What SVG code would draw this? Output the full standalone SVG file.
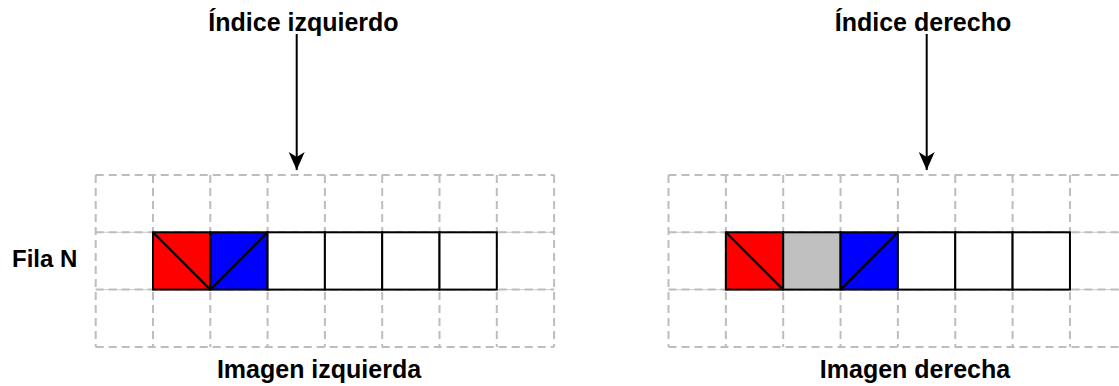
<svg xmlns="http://www.w3.org/2000/svg" width="1119" height="386" viewBox="0 0 1119 386">
<style>
.lbl{font-family:"Liberation Sans",Arial,sans-serif;font-weight:bold;font-size:25px;fill:#000}
.grid{fill:none;stroke:#BDBDBD;stroke-width:2;stroke-dasharray:8 5}
.gsolid{stroke:#CCCCCC;stroke-width:1}
.cell{stroke:#000;stroke-width:2}
.diag{stroke:#000;stroke-width:2.2;fill:none}
.conn{stroke:#000;stroke-width:2;fill:none}
</style>
<defs>
<marker id="arr" markerUnits="userSpaceOnUse" markerWidth="20" markerHeight="20" viewBox="0 0 20 20" refX="18" refY="10" orient="auto">
<path d="M18,10 L0,2 L5,10 L0,18 Z" fill="#000"/>
</marker>
</defs>
<rect width="1119" height="386" fill="#fff"/>

<g id="grid-left">
<line class="gsolid" x1="95.7" y1="232.3" x2="554.1" y2="232.3"/>
<line class="gsolid" x1="95.7" y1="289.6" x2="554.1" y2="289.6"/>
<path class="grid" d="M95.7,175H554.1M95.7,232.3H554.1M95.7,289.6H554.1M95.7,346.9H554.1M95.7,175V346.9M153,175V346.9M210.3,175V346.9M267.6,175V346.9M324.9,175V346.9M382.2,175V346.9M439.5,175V346.9M496.8,175V346.9M554.1,175V346.9"/>
</g>

<g id="grid-right">
<line class="gsolid" x1="668.5" y1="232.3" x2="1127" y2="232.3"/>
<line class="gsolid" x1="668.5" y1="289.6" x2="1127" y2="289.6"/>
<path class="grid" d="M668.5,175H1127M668.5,232.3H1127M668.5,289.6H1127M668.5,346.9H1127M668.5,175V346.9M725.85,175V346.9M783.2,175V346.9M840.55,175V346.9M897.9,175V346.9M955.25,175V346.9M1012.6,175V346.9M1069.95,175V346.9"/>
</g>

<g id="row-left">
<rect class="cell" x="153" y="232.3" width="57.3" height="57.3" fill="#FF0000"/>
<line class="diag" x1="153" y1="232.3" x2="210.3" y2="289.6"/>
<rect class="cell" x="210.3" y="232.3" width="57.3" height="57.3" fill="#0000FF"/>
<line class="diag" x1="210.3" y1="289.6" x2="267.6" y2="232.3"/>
<rect class="cell" x="267.6" y="232.3" width="57.3" height="57.3" fill="#FFFFFF"/>
<rect class="cell" x="324.9" y="232.3" width="57.3" height="57.3" fill="#FFFFFF"/>
<rect class="cell" x="382.2" y="232.3" width="57.3" height="57.3" fill="#FFFFFF"/>
<rect class="cell" x="439.5" y="232.3" width="57.3" height="57.3" fill="#FFFFFF"/>
</g>

<g id="row-right">
<rect class="cell" x="725.85" y="232.3" width="57.35" height="57.3" fill="#FF0000"/>
<line class="diag" x1="725.85" y1="232.3" x2="783.2" y2="289.6"/>
<rect class="cell" x="783.2" y="232.3" width="57.35" height="57.3" fill="#C0C0C0"/>
<rect class="cell" x="840.55" y="232.3" width="57.35" height="57.3" fill="#0000FF"/>
<line class="diag" x1="840.55" y1="289.6" x2="897.9" y2="232.3"/>
<rect class="cell" x="897.9" y="232.3" width="57.35" height="57.3" fill="#FFFFFF"/>
<rect class="cell" x="955.25" y="232.3" width="57.35" height="57.3" fill="#FFFFFF"/>
<rect class="cell" x="1012.6" y="232.3" width="57.35" height="57.3" fill="#FFFFFF"/>
</g>

<g id="label-indice-izq"><text class="lbl" x="303.5" y="31" text-anchor="middle">Índice izquierdo</text></g>
<g id="label-indice-der"><text class="lbl" x="923" y="31" text-anchor="middle">Índice derecho</text></g>
<g id="label-fila"><text class="lbl" x="12" y="267" style="font-size:24px">Fila N</text></g>
<g id="label-img-izq"><text class="lbl" x="319" y="378" text-anchor="middle">Imagen izquierda</text></g>
<g id="label-img-der"><text class="lbl" x="915" y="378" text-anchor="middle">Imagen derecha</text></g>

<g id="connectors">
<line class="conn" x1="296.7" y1="34" x2="296.7" y2="170" marker-end="url(#arr)"/>
<line class="conn" x1="926.7" y1="34" x2="926.7" y2="170" marker-end="url(#arr)"/>
</g>
</svg>
